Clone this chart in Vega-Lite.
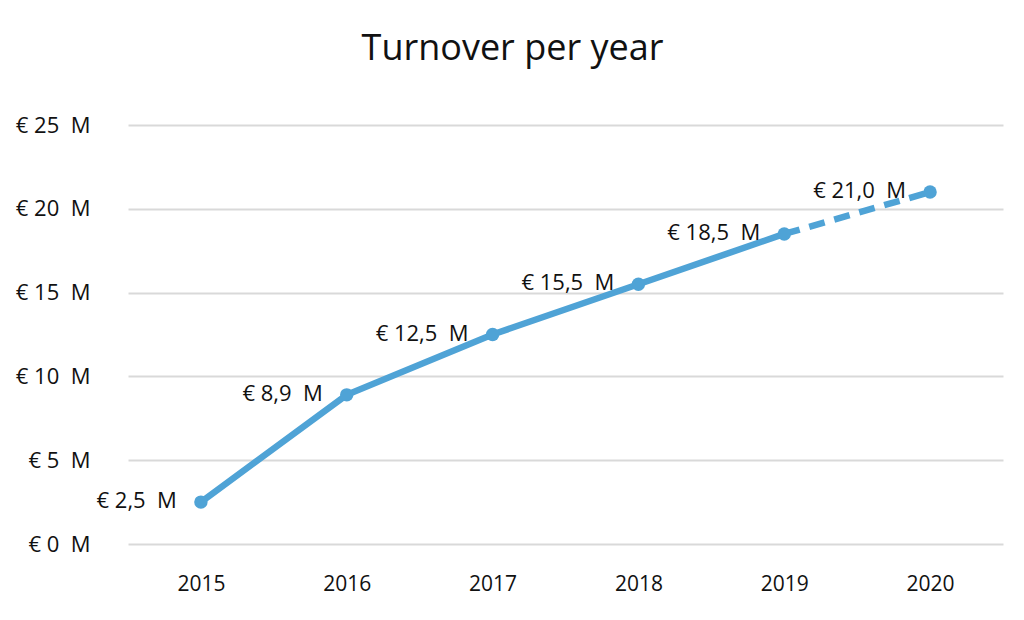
{
  "$schema": "https://vega.github.io/schema/vega-lite/v6.json",
  "width": 875,
  "height": 419,
  "autosize": "none",
  "padding": {"left": 128, "top": 125, "right": 21, "bottom": 76},
  "background": "white",
  "config": {"view": {"stroke": null}},
  "title": {
    "text": "Turnover per year",
    "fontSize": 36,
    "font": "Open Sans",
    "fontWeight": "normal",
    "color": "#111111",
    "anchor": "middle",
    "dx": -53,
    "offset": 46
  },
  "data": {
    "values": [
      {"year": "2015", "value": 2.5, "label": "€ 2,5\u00a0\u00a0M"},
      {"year": "2016", "value": 8.9, "label": "€ 8,9\u00a0\u00a0M"},
      {"year": "2017", "value": 12.5, "label": "€ 12,5\u00a0\u00a0M"},
      {"year": "2018", "value": 15.5, "label": "€ 15,5\u00a0\u00a0M"},
      {"year": "2019", "value": 18.5, "label": "€ 18,5\u00a0\u00a0M"},
      {"year": "2020", "value": 21.0, "label": "€ 21,0\u00a0\u00a0M"}
    ]
  },
  "encoding": {
    "x": {
      "field": "year",
      "type": "ordinal",
      "scale": {"type": "point", "padding": 0.5},
      "axis": {
        "title": null,
        "labelAngle": 0,
        "domain": false,
        "ticks": false,
        "grid": false,
        "labelFont": "Open Sans",
        "labelFontSize": 21,
        "labelColor": "#111111",
        "labelPadding": 29
      }
    },
    "y": {
      "field": "value",
      "type": "quantitative",
      "scale": {"domain": [0, 25], "nice": false, "zero": true},
      "axis": {
        "title": null,
        "values": [0, 5, 10, 15, 20, 25],
        "labelExpr": "'€ ' + datum.value + '\u00a0\u00a0M'",
        "domain": false,
        "ticks": false,
        "grid": true,
        "gridColor": "#d9d9d9",
        "gridWidth": 2,
        "labelFont": "Open Sans",
        "labelFontSize": 22,
        "labelColor": "#111111",
        "labelPadding": 38
      }
    }
  },
  "layer": [
    {
      "transform": [{"filter": "datum.year <= '2019'"}],
      "mark": {"type": "line", "color": "#4fa3d6", "strokeWidth": 6.5, "strokeCap": "round"}
    },
    {
      "transform": [{"filter": "datum.year >= '2019'"}],
      "mark": {"type": "line", "color": "#4fa3d6", "strokeWidth": 6.5, "strokeDash": [16, 10]}
    },
    {
      "mark": {"type": "circle", "color": "#4fa3d6", "opacity": 1, "size": 180}
    },
    {
      "mark": {"type": "text", "align": "right", "baseline": "middle", "dx": -24, "dy": -1, "font": "Open Sans", "fontSize": 22, "color": "#111111"},
      "encoding": {"text": {"field": "label"}}
    }
  ]
}
